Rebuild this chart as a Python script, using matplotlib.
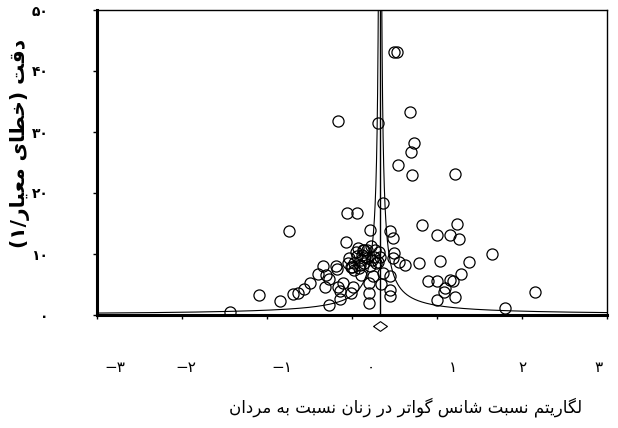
import numpy as np
import matplotlib
matplotlib.use("Agg")
import matplotlib.pyplot as plt
from matplotlib.path import Path
import matplotlib.transforms as mtransforms

plt.rcParams['font.family'] = ['DejaVu Sans']

# log odds ratio of each study and its precision (1/SE)
log_or = [0.49, 0.53, 0.68, -0.16, 0.31, 0.73, 0.69, 0.54, 0.70, 1.21, 0.36, -0.06, 0.06,
          0.82, 1.24, -0.74, 0.21, 0.45, 0.48, 1.00, 1.15, 1.26, -0.07, 1.65, 0.49, 0.48,
          0.55, 0.62, 0.79, 1.03, 1.38, 1.28, 0.89, 1.00, 1.15, 1.19, 1.09, 1.08, 1.21,
          1.00, 2.15, 1.80, 0.45, 0.45, 0.45, 0.34, 0.36,
          -1.43, -1.10, -0.85, -0.70, -0.63, -0.56, -0.50, -0.40, -0.34, -0.31, -0.32,
          -0.27, -0.27, -0.19, -0.18, -0.16, -0.14, -0.11, -0.14, -0.05, -0.01, 0.01,
          -0.01, 0.02, 0.05, 0.07, 0.08, 0.11, 0.11, 0.14, 0.14, 0.15, 0.18, 0.20, 0.20,
          0.20, 0.22, 0.23, 0.25, 0.26, 0.28, 0.31, 0.32, 0.33, 0.02, 0.13, 0.00,
          0.06, 0.09, 0.18, 0.21, 0.27, -0.04, 0.12]
precision = [43.1, 43.1, 33.3, 31.8, 31.5, 28.2, 26.7, 24.6, 23.0, 23.1, 18.4, 16.7, 16.7,
             14.8, 14.9, 13.8, 13.9, 13.8, 12.6, 13.1, 13.1, 12.5, 12.0, 10.0, 10.2, 9.3,
             8.7, 8.2, 8.5, 8.9, 8.7, 6.7, 5.6, 5.6, 5.7, 5.6, 4.4, 3.8, 3.0,
             2.5, 3.8, 1.1, 6.4, 4.1, 3.1, 5.1, 6.9,
             0.5, 3.3, 2.3, 3.4, 3.6, 4.3, 5.2, 6.7, 8.0, 6.6, 4.6,
             5.9, 1.6, 8.0, 7.5, 4.6, 2.6, 5.2, 3.9, 8.5, 3.6, 4.6,
             7.9, 8.5, 10.3, 11.0, 7.7, 9.0, 6.6, 10.7, 8.5, 9.5, 10.7, 5.2, 3.6,
             2.0, 11.3, 9.0, 6.4, 9.5, 8.5, 8.7, 10.3, 9.5, 7.4, 10.7, 7.9,
             9.7, 8.2, 9.3, 8.0, 10.7, 9.3, 9.8]
pooled = 0.33
funnel_k = 1.05

y_ticks = [0, 10, 20, 30, 40, 50]
y_tick_labels = ['۰', '۱۰', '۲۰', '۳۰', '۴۰', '۵۰']
x_ticks = [-3, -2, -1, 0, 1, 2, 3]
x_tick_labels = ['\u2212۳', '\u2212۲', '\u2212۱', '۰', '۱', '۲', '۳']
x_label_pos = [-2.79, -1.95, -0.83, 0.22, 1.19, 2.0, 2.90]

# minimal Persian shaping (matplotlib has no text shaping): isolated, final, initial, medial
FORMS = {
    'ا': ('\uFE8D', '\uFE8E', None, None),
    'ب': ('\uFE8F', '\uFE90', '\uFE91', '\uFE92'),
    'ت': ('\uFE95', '\uFE96', '\uFE97', '\uFE98'),
    'خ': ('\uFEA5', '\uFEA6', '\uFEA7', '\uFEA8'),
    'د': ('\uFEA9', '\uFEAA', None, None),
    'ر': ('\uFEAD', '\uFEAE', None, None),
    'ز': ('\uFEAF', '\uFEB0', None, None),
    'س': ('\uFEB1', '\uFEB2', '\uFEB3', '\uFEB4'),
    'ش': ('\uFEB5', '\uFEB6', '\uFEB7', '\uFEB8'),
    'ط': ('\uFEC1', '\uFEC2', '\uFEC3', '\uFEC4'),
    'ع': ('\uFEC9', '\uFECA', '\uFECB', '\uFECC'),
    'ق': ('\uFED5', '\uFED6', '\uFED7', '\uFED8'),
    'ل': ('\uFEDD', '\uFEDE', '\uFEDF', '\uFEE0'),
    'م': ('\uFEE1', '\uFEE2', '\uFEE3', '\uFEE4'),
    'ن': ('\uFEE5', '\uFEE6', '\uFEE7', '\uFEE8'),
    'ه': ('\uFEE9', '\uFEEA', '\uFEEB', '\uFEEC'),
    'و': ('\uFEED', '\uFEEE', None, None),
    'ی': ('\uFBFC', '\uFBFD', '\uFBFE', '\uFBFF'),
    'گ': ('\uFB92', '\uFB93', '\uFB94', '\uFB95'),
}


def shape_word(w):
    out = []
    for i, ch in enumerate(w):
        f = FORMS.get(ch)
        if f is None:
            out.append(ch)
            continue
        prev = w[i - 1] if i > 0 else None
        nxt = w[i + 1] if i + 1 < len(w) else None
        join_prev = prev in FORMS and FORMS[prev][2] is not None
        join_next = nxt in FORMS and f[2] is not None
        if join_prev and join_next:
            out.append(f[3])
        elif join_prev:
            out.append(f[1])
        elif join_next:
            out.append(f[2])
        else:
            out.append(f[0])
    return ''.join(out)


def rtl(text):
    return ' '.join(shape_word(w)[::-1] for w in reversed(text.split(' ')))


xlabel = rtl('لگاریتم نسبت شانس گواتر در زنان نسبت به مردان')
ylabel = '(۱/' + shape_word('معیار')[::-1] + ' ' + shape_word('خطای')[::-1] + ') ' + shape_word('دقت')[::-1]

fig = plt.figure(figsize=(6.18, 4.28), dpi=100)
ax = fig.add_axes([97 / 618, 1 - 315 / 428, 510 / 618, 305 / 428])

ax.plot(log_or, precision, 'o', ms=8, mfc='none', mec='black', mew=0.9, zorder=3)

yy = np.geomspace(0.2, 50, 800)
ax.plot(pooled - funnel_k / yy, yy, color='black', lw=0.8)
ax.plot(pooled + funnel_k / yy, yy, color='black', lw=0.8)
ax.plot([pooled, pooled], [0, 50], color='black', lw=1.0)

diamond = Path([(-1, 0), (0, 0.7), (1, 0), (0, -0.7), (-1, 0)])
trans = mtransforms.blended_transform_factory(ax.transData, ax.transAxes)
ax.plot([pooled], [-0.036], marker=diamond, ms=10, mfc='white', mec='black', mew=0.8,
        transform=trans, clip_on=False)

ax.set_xlim(-3, 3)
ax.set_ylim(0, 50)
ax.set_xticks(x_ticks)
ax.set_xticklabels([])
ax.set_yticks(y_ticks)
ax.set_yticklabels(y_tick_labels, fontsize=10, fontweight='bold')
ax.tick_params(axis='y', direction='out', length=3, width=1, pad=32)
ax.tick_params(axis='x', direction='out', length=3, width=1)

for pos, lab in zip(x_label_pos, x_tick_labels):
    ax.text(pos, -0.172, lab, transform=trans, ha='center', va='center', fontsize=11)

for side in ['left', 'bottom']:
    ax.spines[side].set_linewidth(2.2)
for side in ['top', 'right']:
    ax.spines[side].set_linewidth(1.0)

fig.text(406 / 618, 1 - 407 / 428, xlabel, ha='center', va='center', fontsize=12)
fig.text(20 / 618, 1 - 143 / 428, ylabel, ha='center', va='center', rotation=90,
         fontsize=14.5, fontweight='bold')

fig.savefig('out.png', dpi=100)
